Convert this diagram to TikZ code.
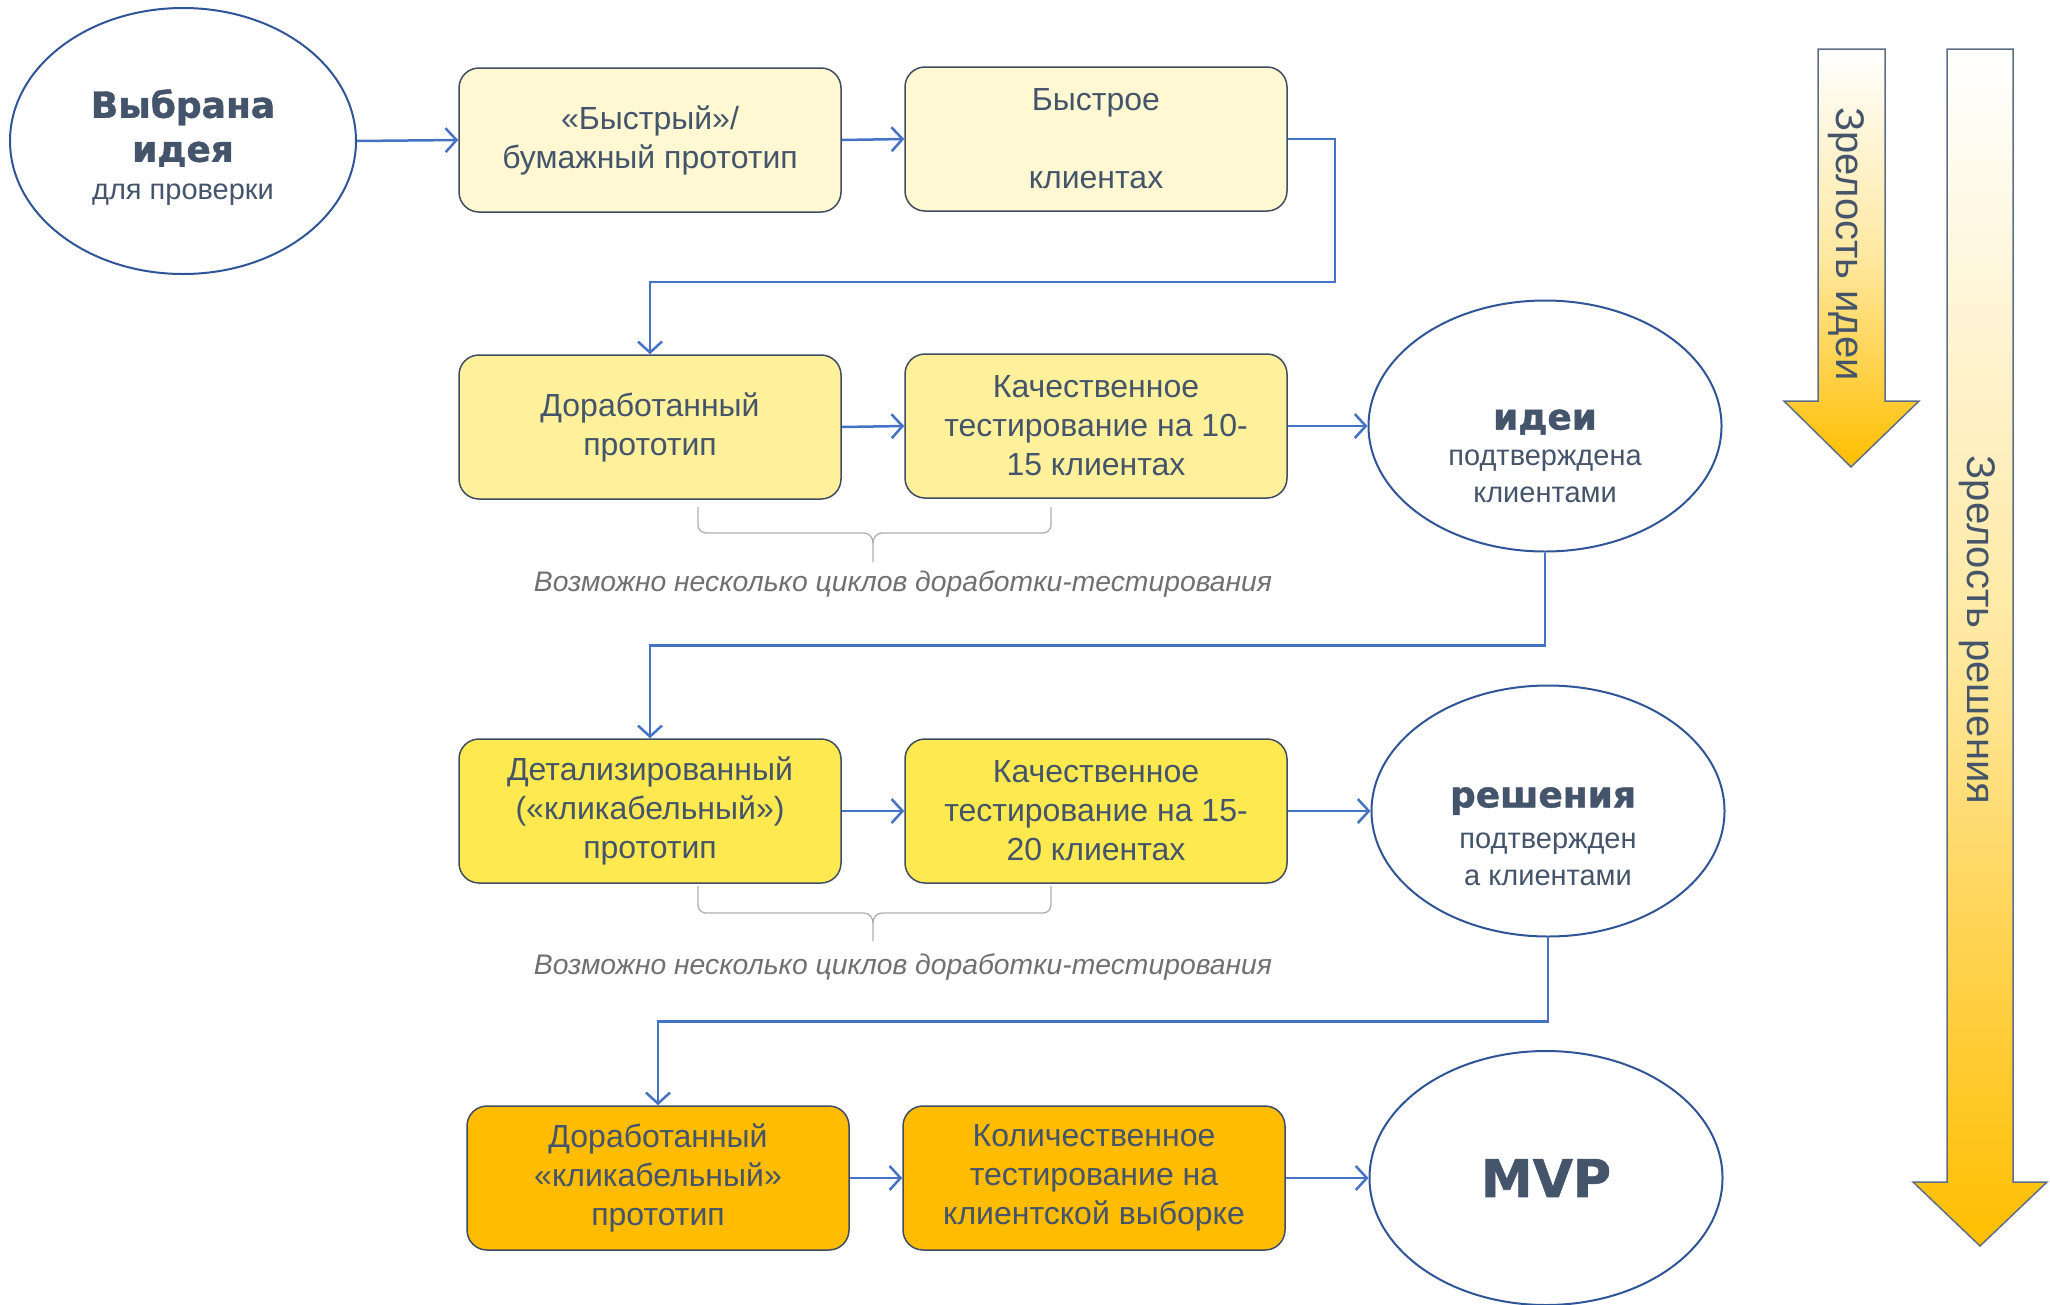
\documentclass[tikz,border=0pt]{standalone}
\usepackage{fontspec}
\setmainfont{Liberation Sans}
\newfontfamily\heavyfont[BoldFeatures={FakeBold=1.2}]{DejaVu Sans}
\usetikzlibrary{arrows.meta,shapes.geometric}
\definecolor{txt}{RGB}{68,84,106}
\definecolor{boxline}{RGB}{64,76,96}
\definecolor{ovalline}{RGB}{47,85,151}
\definecolor{conncol}{RGB}{68,114,196}
\definecolor{rowa}{RGB}{255,248,210}
\definecolor{rowb}{RGB}{255,241,155}
\definecolor{rowc}{RGB}{255,233,80}
\definecolor{rowd}{RGB}{255,188,0}
\definecolor{amber}{RGB}{255,190,0}
\definecolor{pale}{RGB}{255,232,160}
\definecolor{arrowline}{RGB}{95,110,135}
\definecolor{capgray}{RGB}{112,112,112}
\definecolor{bracegray}{RGB}{175,175,175}
\begin{document}
\begin{tikzpicture}[x=1pt,y=-1pt,
  box/.style={draw=boxline, line width=1.5pt, rounded corners=20pt,
    minimum width=382pt, minimum height=144pt, inner sep=0pt, align=center,
    text=txt, font=\fontsize{32}{39}\selectfont},
  oval/.style={ellipse, draw=ovalline, line width=2pt, minimum width=353pt,
    minimum height=251pt, inner sep=0pt},
  heavytext/.style={align=center, text=txt, inner sep=0pt,
    font=\heavyfont\bfseries\fontsize{36}{44}\selectfont},
  plaintext/.style={align=center, text=txt, inner sep=0pt,
    font=\fontsize{29}{37}\selectfont},
  conn/.style={draw=conncol, line width=2.5pt,
    -{Straight Barb[length=11pt,width=24pt]}},
  caption/.style={text=capgray, font=\itshape\fontsize{28.3}{34}\selectfont},
  bracestyle/.style={draw=bracegray, line width=1.3pt},
  bigarrow/.style={draw=arrowline, line width=1.5pt, top color=white,
    bottom color=amber, middle color=pale},
  arrowtext/.style={rotate=-90, text=txt, font=\fontsize{40}{48}\selectfont}
]
\useasboundingbox (0,0) rectangle (2050,1304);

% ---- ellipses ----
\node[oval, minimum width=346pt, minimum height=266pt] (start) at (183,141) {};
\node[heavytext] (starthead) at (183,128) {Выбрана\\идея};
\node[plaintext] (startsub) at (183,195) {для проверки};

\node[oval] (ideas) at (1545,426) {};
\node[heavytext] (ideashead) at (1545,422) {идеи};
\node[plaintext] (ideassub) at (1545,476) {подтверждена\\клиентами};

\node[oval] (sol) at (1548,811) {};
\node[heavytext] (solhead) at (1543,801) {решения};
\node[plaintext] (solsub) at (1548,859) {подтвержден\\а клиентами};

\node[oval, minimum height=254pt] (mvp) at (1546,1178) {};
\node[align=center, text=txt, inner sep=0pt,
  font=\heavyfont\bfseries\fontsize{52}{60}\selectfont] (mvptext) at (1546,1178) {MVP};

% ---- boxes ----
\node[box, fill=rowa] (A) at (650,140) {«Быстрый»/\\бумажный прототип};
\node[box, fill=rowa] (B) at (1096,139) {Быстрое\\\mbox{}\\клиентах};
\node[box, fill=rowb] (C) at (650,427) {Доработанный\\прототип};
\node[box, fill=rowb] (D) at (1096,426) {Качественное\\тестирование на 10-\\15 клиентах};
\node[box, fill=rowc] (E) at (650,811) {Детализированный\\(«кликабельный»)\\прототип};
\node[box, fill=rowc] (F) at (1096,811) {Качественное\\тестирование на 15-\\20 клиентах};
\node[box, fill=rowd] (G) at (658,1178) {Доработанный\\«кликабельный»\\прототип};
\node[box, fill=rowd] (H) at (1094,1178) {Количественное\\тестирование на\\клиентской выборке};

% ---- connectors ----
\draw[conn] (start.east) -- (A.west);
\draw[conn] (A.east) -- (B.west);
\draw[conn] (B.east) -- ++(47,0) -- ++(0,143) -| (C.north);
\draw[conn] (C.east) -- (D.west);
\draw[conn] (D.east) -- (ideas.west);
\draw[conn] (ideas.south) -- ++(0,93) -| (E.north);
\draw[conn] (E.east) -- (F.west);
\draw[conn] (F.east) -- (sol.west);
\draw[conn] (sol.south) -- ++(0,84) -| (G.north);
\draw[conn] (G.east) -- (H.west);
\draw[conn] (H.east) -- (mvp.west);

% ---- braces and captions ----
\draw[bracestyle] (698,507) -- (698,525) to[out=-90,in=180] (706,533) -- (864,533)
  to[out=0,in=90] (873,543) -- (873,562);
\draw[bracestyle] (873,543) to[out=90,in=180] (882,533) -- (1043,533)
  to[out=0,in=-90] (1051,525) -- (1051,507);
\node[caption] (cap1) at (903,584) {Возможно несколько циклов доработки-тестирования};

\draw[bracestyle] (698,886) -- (698,905) to[out=-90,in=180] (706,913) -- (864,913)
  to[out=0,in=90] (873,923) -- (873,941);
\draw[bracestyle] (873,923) to[out=90,in=180] (882,913) -- (1043,913)
  to[out=0,in=-90] (1051,905) -- (1051,886);
\node[caption] (cap2) at (903,967) {Возможно несколько циклов доработки-тестирования};

% ---- maturity arrows ----
\path[bigarrow] (1818,49) -- (1885,49) -- (1885,401) -- (1919,401) -- (1851,467)
  -- (1784,401) -- (1818,401) -- cycle;
\node[arrowtext] (mat1) at (1846,244) {Зрелость идеи};

\path[bigarrow] (1947,49) -- (2013,49) -- (2013,1182) -- (2047,1182) -- (1980,1246)
  -- (1913,1182) -- (1947,1182) -- cycle;
\node[arrowtext] (mat2) at (1977,630) {Зрелость решения};
\end{tikzpicture}
\end{document}
